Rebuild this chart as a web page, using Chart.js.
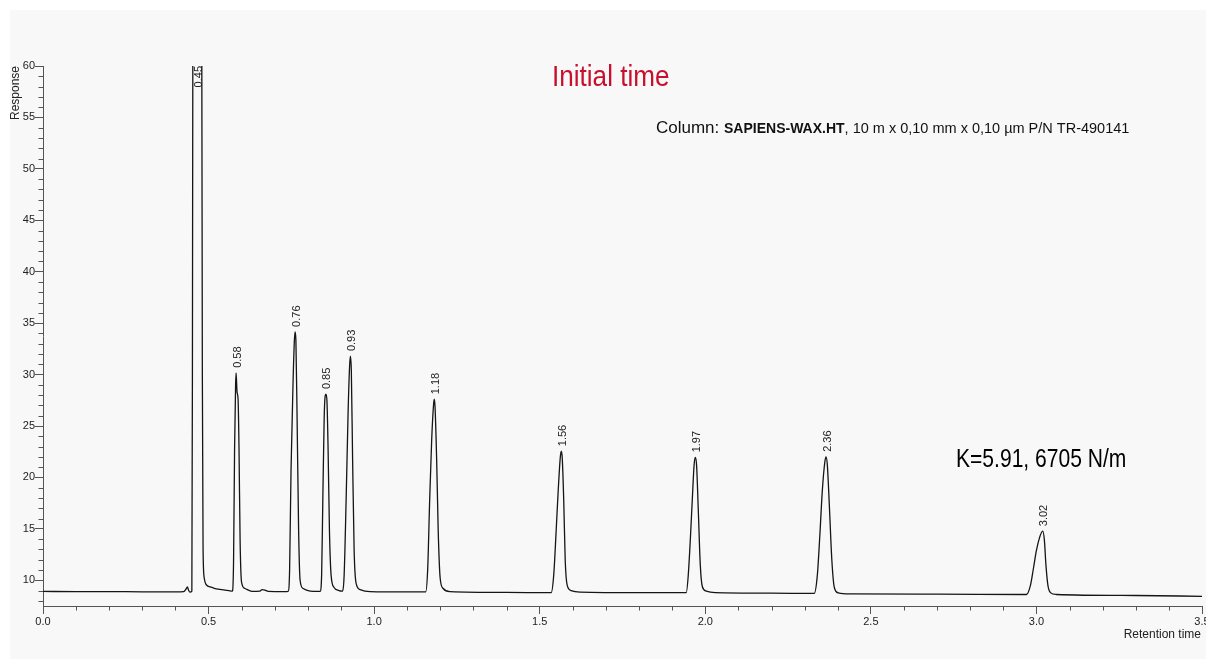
<!DOCTYPE html>
<html>
<head>
<meta charset="utf-8">
<script src="https://cdn.jsdelivr.net/npm/chart.js@4.4.1/dist/chart.umd.min.js"></script>
<style>
  html, body { margin: 0; padding: 0; background: #ffffff; }
  #c { display: block; }
</style>
</head>
<body>
<canvas id="c" width="1206" height="659"></canvas>
<script>
// ---- Data ----
const traceTimes = [
  0.000, 0.100, 0.200, 0.300, 0.400, 0.425, 0.432, 0.436, 0.440, 0.444, 0.4495,
  0.4512, 0.4525, 0.466, 0.4795, 0.4812, 0.4834, 0.4870, 0.4924, 0.5050, 0.5196, 0.5500, 0.5700,
  0.5725, 0.5755, 0.5785, 0.5816, 0.5831, 0.5860, 0.5891, 0.5920, 0.5952, 0.5997, 0.6100, 0.6310,
  0.6550, 0.6620, 0.6700, 0.6800, 0.7300,
  0.7402, 0.7447, 0.7490, 0.7553, 0.7592, 0.7613, 0.7637, 0.7674, 0.7719, 0.7764, 0.7855, 0.8070, 0.8300,
  0.8369, 0.8414, 0.8450, 0.8490, 0.8520, 0.8544, 0.8574, 0.8610, 0.8650, 0.8700, 0.8790, 0.8940, 0.9020,
  0.9048, 0.9094, 0.9154, 0.9215, 0.9260, 0.9285, 0.9311, 0.9350, 0.9396, 0.9456, 0.9577, 0.9880, 1.1000,
  1.1556, 1.1616, 1.1677, 1.1737, 1.1792, 1.1813, 1.1837, 1.1888, 1.1934, 1.1994, 1.2085, 1.2296, 1.4000,
  1.5347, 1.5423, 1.5498, 1.5559, 1.5620, 1.5650, 1.5680, 1.5725, 1.5770, 1.5831, 1.5950, 1.6220, 1.8000,
  1.9426, 1.9486, 1.9547, 1.9607, 1.9662, 1.9698, 1.9737, 1.9789, 1.9849, 1.9910, 2.0030, 2.0300, 2.2000,
  2.3290, 2.3384, 2.3460, 2.3535, 2.3610, 2.3646, 2.3686, 2.3746, 2.3822, 2.3897, 2.4018, 2.4380, 2.7000,
  2.9698, 2.9819, 2.9910, 3.0000, 3.0090, 3.0190, 3.0240, 3.0287, 3.0347, 3.0423, 3.0600, 3.3000, 3.5000
];
const traceResponse = [
  8.92, 8.90, 8.90, 8.88, 8.88, 8.90, 9.15, 9.35, 9.00, 8.85, 8.95,
  30.0, 62.0, 95.0, 62.0, 30.0, 13.0, 10.2, 9.6, 9.35, 9.2, 9.05, 8.95,
  9.00, 11.95, 22.65, 28.97, 30.17, 28.3, 27.6, 22.65, 13.9, 9.8, 9.2, 8.93,
  8.95, 9.10, 9.05, 8.92, 8.90,
  8.92, 11.0, 20.7, 29.45, 33.35, 34.15, 33.35, 25.6, 14.9, 10.0, 9.2, 8.95, 8.92,
  8.93, 10.5, 17.8, 25.6, 27.9, 28.1, 27.5, 22.65, 14.9, 10.5, 9.3, 9.0, 8.95,
  8.97, 10.5, 17.8, 26.5, 30.9, 31.8, 30.4, 21.7, 12.9, 9.7, 9.1, 8.9, 8.87,
  8.87, 11.0, 17.8, 23.6, 27.0, 27.6, 27.0, 21.7, 14.9, 10.2, 9.2, 8.9, 8.82,
  8.80, 10.5, 14.9, 18.75, 21.9, 22.55, 21.9, 17.8, 11.95, 9.5, 9.0, 8.85, 8.80,
  8.80, 10.5, 13.9, 17.8, 21.2, 21.95, 21.2, 16.8, 11.5, 9.4, 8.95, 8.80, 8.75,
  8.72, 10.5, 14.4, 18.75, 21.5, 22.0, 21.2, 17.3, 11.95, 9.3, 8.78, 8.68, 8.65,
  8.62, 9.5, 11.17, 12.9, 14.1, 14.77, 13.9, 11.5, 9.5, 8.8, 8.62, 8.52, 8.44
];
const peakTimes  = [0.466, 0.5831, 0.7613, 0.8544, 0.9285, 1.1813, 1.565, 1.9698, 2.3646, 3.019];
const peakApex   = [95, 30.17, 34.15, 28.1, 31.8, 27.6, 22.55, 21.95, 22.0, 14.77];
const peakLabels = ['0.45', '0.58', '0.76', '0.85', '0.93', '1.18', '1.56', '1.97', '2.36', '3.02'];

const xMin = 0, xMax = 3.5, xMinorStep = 0.1, xMajorStep = 0.5;
const yMin = 7.5, yMax = 60, yMinorStep = 1, yMajorStep = 5;

const titleText = 'Initial time';
const columnPrefix = 'Column: ';
const columnName = 'SAPIENS-WAX.HT';
const columnRest = ', 10 m x 0,10 mm x 0,10 µm P/N TR-490141';
const efficiencyText = 'K=5.91, 6705 N/m';
const yAxisTitle = 'Response';
const xAxisTitle = 'Retention time';

// ---- Build dataset ----
const points = traceTimes.map((t, i) => ({ x: t, y: traceResponse[i] }));

const SANS = '"Liberation Sans", Arial, Helvetica, sans-serif';
const AXIS_COLOR = '#555555';
const TEXT_COLOR = '#222222';

function isMajor(v, step) {
  const r = v / step;
  return Math.abs(r - Math.round(r)) < 1e-6;
}

function narrowText(c, text, x, y, squeeze) {
  c.save();
  c.translate(x, y);
  c.scale(squeeze, 1);
  c.fillText(text, 0, 0);
  c.restore();
}

const backgroundPlugin = {
  id: 'panelBg',
  beforeDraw(chart) {
    const c = chart.ctx;
    c.save();
    c.fillStyle = '#ffffff';
    c.fillRect(0, 0, chart.width, chart.height);
    c.fillStyle = '#f8f8f8';
    c.fillRect(10, 10, chart.width - 10, chart.height - 10);
    c.restore();
  }
};

const decorPlugin = {
  id: 'decor',
  afterDatasetsDraw(chart) {
    const c = chart.ctx;
    const xs = chart.scales.x, ys = chart.scales.y;
    const area = chart.chartArea;
    // peak labels
    c.save();
    c.font = '11px ' + SANS;
    c.fillStyle = TEXT_COLOR;
    c.textAlign = 'left';
    c.textBaseline = 'middle';
    peakTimes.forEach((t, i) => {
      const w = c.measureText(peakLabels[i]).width;
      const px = xs.getPixelForValue(t) + 1.5;
      let py = ys.getPixelForValue(peakApex[i]) - 5;
      py = Math.max(py, area.top + w);
      c.save();
      c.translate(px, py);
      c.rotate(-Math.PI / 2);
      c.fillText(peakLabels[i], 0, 0);
      c.restore();
    });
    c.restore();
  },
  afterDraw(chart) {
    const c = chart.ctx;
    const xs = chart.scales.x, ys = chart.scales.y;
    const area = chart.chartArea;
    c.save();
    // minor ticks
    c.strokeStyle = AXIS_COLOR;
    c.lineWidth = 1;
    c.beginPath();
    xs.ticks.forEach(tk => {
      if (!isMajor(tk.value, xMajorStep)) {
        const px = Math.round(xs.getPixelForValue(tk.value)) + 0.5;
        c.moveTo(px, area.bottom);
        c.lineTo(px, area.bottom + 4.5);
      }
    });
    ys.ticks.forEach(tk => {
      if (!isMajor(tk.value, yMajorStep)) {
        const py = Math.round(ys.getPixelForValue(tk.value)) + 0.5;
        c.moveTo(area.left - 4.5, py);
        c.lineTo(area.left, py);
      }
    });
    c.stroke();

    c.textAlign = 'left';
    c.textBaseline = 'alphabetic';

    // title (condensed look)
    c.fillStyle = '#c8102e';
    c.font = '29px ' + SANS;
    narrowText(c, titleText, 552, 86, 0.9);

    // column line
    c.fillStyle = '#111111';
    let x = 656;
    const base = 133;
    c.font = '17px ' + SANS;
    c.fillText(columnPrefix, x, base);
    x += c.measureText(columnPrefix).width;
    c.font = 'bold 14px ' + SANS;
    c.fillText(columnName, x, base);
    x += c.measureText(columnName).width;
    c.font = '14.5px ' + SANS;
    c.fillText(columnRest, x, base);

    // efficiency annotation (condensed look)
    c.fillStyle = '#000000';
    c.font = '25.7px ' + SANS;
    narrowText(c, efficiencyText, 956, 467, 0.82);

    // axis titles
    c.fillStyle = TEXT_COLOR;
    c.font = '12px ' + SANS;
    c.textAlign = 'right';
    c.fillText(xAxisTitle, 1201, 638);
    c.save();
    c.translate(16, area.top);
    c.rotate(-Math.PI / 2);
    c.textAlign = 'right';
    c.textBaseline = 'middle';
    c.fillText(yAxisTitle, 0, 0);
    c.restore();
    c.restore();
  }
};

new Chart(document.getElementById('c'), {
  type: 'line',
  data: {
    datasets: [{
      data: points,
      borderColor: '#151515',
      borderWidth: 1.3,
      pointRadius: 0,
      pointHoverRadius: 0,
      fill: false,
      cubicInterpolationMode: 'monotone'
    }]
  },
  options: {
    responsive: false,
    animation: false,
    events: [],
    layout: { padding: { left: 0, top: 66, right: 4, bottom: 0 } },
    plugins: { legend: { display: false }, tooltip: { enabled: false }, title: { display: false } },
    scales: {
      x: {
        type: 'linear',
        min: xMin,
        max: xMax,
        afterBuildTicks(scale) {
          const ticks = [];
          const n = Math.round((xMax - xMin) / xMinorStep);
          for (let i = 0; i <= n; i++) ticks.push({ value: +(xMin + i * xMinorStep).toFixed(4) });
          scale.ticks = ticks;
        },
        afterFit(scale) {
          scale.height = 53;
          scale.paddingLeft = 0;
          scale.paddingRight = 0;
        },
        ticks: {
          autoSkip: false,
          maxRotation: 0,
          minRotation: 0,
          padding: 1,
          color: TEXT_COLOR,
          font: { family: SANS, size: 11 },
          callback: (v) => isMajor(v, xMajorStep) ? Number(v).toFixed(1) : ''
        },
        grid: {
          display: true,
          drawOnChartArea: false,
          drawTicks: true,
          tickLength: 8,
          tickWidth: 1,
          tickColor: (ctx) => (ctx.tick && isMajor(ctx.tick.value, xMajorStep)) ? AXIS_COLOR : 'rgba(0,0,0,0)'
        },
        border: { display: true, color: AXIS_COLOR, width: 1 }
      },
      y: {
        type: 'linear',
        min: yMin,
        max: yMax,
        afterBuildTicks(scale) {
          const ticks = [];
          for (let v = Math.ceil(yMin); v <= yMax; v += yMinorStep) ticks.push({ value: v });
          scale.ticks = ticks;
        },
        afterFit(scale) {
          scale.width = 43;
          scale.paddingTop = 0;
          scale.paddingBottom = 0;
        },
        ticks: {
          autoSkip: false,
          padding: 0,
          color: TEXT_COLOR,
          font: { family: SANS, size: 11 },
          callback: (v) => isMajor(v, yMajorStep) ? String(v) : ''
        },
        grid: {
          display: true,
          drawOnChartArea: false,
          drawTicks: true,
          tickLength: 8,
          tickWidth: 1,
          tickColor: (ctx) => (ctx.tick && isMajor(ctx.tick.value, yMajorStep)) ? AXIS_COLOR : 'rgba(0,0,0,0)'
        },
        border: { display: true, color: AXIS_COLOR, width: 1 }
      }
    }
  },
  plugins: [backgroundPlugin, decorPlugin]
});
</script>
</body>
</html>
